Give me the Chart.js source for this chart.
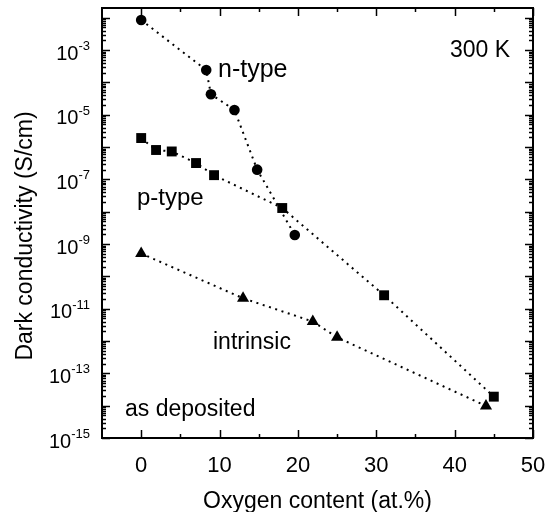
<!DOCTYPE html>
<html>
<head>
<meta charset="utf-8">
<title>Dark conductivity vs oxygen content</title>
<script src="https://cdn.jsdelivr.net/npm/chart.js@4.4.1/dist/chart.umd.min.js"></script>
<style>
  html, body { margin: 0; padding: 0; background: #fff; }
  #wrap { width: 554px; height: 512px; }
</style>
</head>
<body>
<div id="wrap"><canvas id="condChart" width="554" height="512"></canvas></div>
<script>
// Dark conductivity (S/cm) vs oxygen content (at.%), 300 K, as deposited

const nTypeO = [0, 8.3, 8.9, 11.9, 14.8, 19.6];
const nTypeSigma = [8.5e-3, 2.4e-4, 4.3e-5, 1.4e-5, 2.0e-7, 1.9e-9];

const pTypeO = [0, 1.9, 3.9, 7.0, 9.3, 18.0, 31.0, 45.0];
const pTypeSigma = [1.9e-6, 8.1e-7, 7.3e-7, 3.2e-7, 1.35e-7, 1.3e-8, 2.6e-11, 1.9e-14];

const intrinsicO = [0, 13.0, 21.9, 25.0, 44.0];
const intrinsicSigma = [5.1e-10, 2.1e-11, 4.0e-12, 1.3e-12, 9.8e-15];

// axis ticks
const xTickLabels = [0, 10, 20, 30, 40, 50];
const xMinorTicks = [5, 15, 25, 35, 45];
const yLabelExponents = [-15, -13, -11, -9, -7, -5, -3];
const yDecadeExponents = [-15, -14, -13, -12, -11, -10, -9, -8, -7, -6, -5, -4, -3, -2];

const FONT = "'Liberation Sans', Arial, sans-serif";

const toPoints = (xs, ys) => xs.map((v, i) => ({ x: v, y: ys[i] }));

function series(label, xs, ys, style, radius) {
  return {
    label,
    data: toPoints(xs, ys),
    showLine: true,
    borderColor: '#000',
    borderWidth: 2,
    borderDash: [2, 4.6],
    tension: 0,
    pointStyle: style,
    pointRadius: radius,
    pointBackgroundColor: '#000',
    pointBorderColor: '#000',
    pointBorderWidth: 0,
  };
}

// ── Frame, inward ticks and all labels ──
const frameAndLabels = {
  id: 'frameAndLabels',
  afterDatasetsDraw(chart) {
    const { ctx, chartArea: a, scales: { x, y } } = chart;
    const seg = (x1, y1, x2, y2) => {
      ctx.beginPath(); ctx.moveTo(x1, y1); ctx.lineTo(x2, y2); ctx.stroke();
    };
    ctx.save();
    ctx.strokeStyle = '#000';
    ctx.lineWidth = 1.5;

    // x ticks, bottom and top
    const xTick = (v, len) => {
      const px = Math.round(x.getPixelForValue(v)) + 0.5;
      seg(px, a.bottom, px, a.bottom - len);
      seg(px, a.top, px, a.top + len);
    };
    xTickLabels.forEach(v => xTick(v, 8));
    xMinorTicks.forEach(v => xTick(v, 4));

    // y ticks, left and right
    const yTick = (v, len) => {
      if (v >= y.max) return;
      const py = Math.round(y.getPixelForValue(v)) + 0.5;
      seg(a.left, py, a.left + len, py);
      seg(a.right, py, a.right - len, py);
    };
    yDecadeExponents.forEach(e => {
      yTick(Math.pow(10, e), 8);
      for (let m = 2; m <= 9; m++) yTick(m * Math.pow(10, e), 4);
    });

    ctx.lineWidth = 2;
    ctx.strokeRect(a.left, a.top, a.right - a.left, a.bottom - a.top);
    ctx.restore();
  },
  afterDraw(chart) {
    const { ctx, chartArea: a, scales: { x, y } } = chart;
    ctx.save();
    ctx.fillStyle = '#000';
    ctx.textBaseline = 'alphabetic';

    // x tick labels
    ctx.font = `22px ${FONT}`;
    ctx.textAlign = 'center';
    xTickLabels.forEach(v => ctx.fillText(String(v), x.getPixelForValue(v), a.bottom + 34));

    // y tick labels as 10^n
    yLabelExponents.forEach(e => {
      const py = y.getPixelForValue(Math.pow(10, e));
      const exp = '-' + String(-e);
      ctx.font = `13px ${FONT}`;
      const expW = ctx.measureText(exp).width;
      const right = a.left - 12;
      ctx.textAlign = 'left';
      ctx.fillText(exp, right - expW, py);
      ctx.font = `20px ${FONT}`;
      ctx.textAlign = 'right';
      ctx.fillText('10', right - expW, py + 9.5);
    });

    // axis titles
    ctx.font = `23px ${FONT}`;
    ctx.textAlign = 'center';
    ctx.fillText('Oxygen content (at.%)', (a.left + a.right) / 2, a.bottom + 70);
    ctx.save();
    ctx.translate(31.5, (a.top + a.bottom) / 2 + 13);
    ctx.rotate(-Math.PI / 2);
    ctx.fillText('Dark conductivity (S/cm)', 0, 0);
    ctx.restore();

    // curve labels
    ctx.textAlign = 'left';
    ctx.font = `25px ${FONT}`;
    ctx.fillText('n-type', a.left + 116, a.top + 69);
    ctx.font = `24px ${FONT}`;
    ctx.fillText('p-type', a.left + 35, a.top + 197);
    ctx.font = `23px ${FONT}`;
    ctx.fillText('300 K', a.left + 348, a.top + 49);
    ctx.fillText('intrinsic', a.left + 111, a.top + 341);
    ctx.fillText('as deposited', a.left + 23, a.top + 408);
    ctx.restore();
  }
};

new Chart(document.getElementById('condChart'), {
  type: 'scatter',
  data: {
    datasets: [
      series('n-type', nTypeO, nTypeSigma, 'circle', 5.3),
      series('p-type', pTypeO, pTypeSigma, 'rect', 7),
      series('intrinsic', intrinsicO, intrinsicSigma, 'triangle', 7),
    ]
  },
  options: {
    responsive: false,
    animation: false,
    layout: { padding: { left: 102, top: 8, right: 21, bottom: 74 } },
    plugins: {
      legend: { display: false },
      tooltip: { enabled: false }
    },
    scales: {
      x: { type: 'linear', min: -5, max: 50, display: false },
      y: { type: 'logarithmic', min: 1e-15, max: 0.02, display: false }
    }
  },
  plugins: [frameAndLabels]
});
</script>
</body>
</html>
